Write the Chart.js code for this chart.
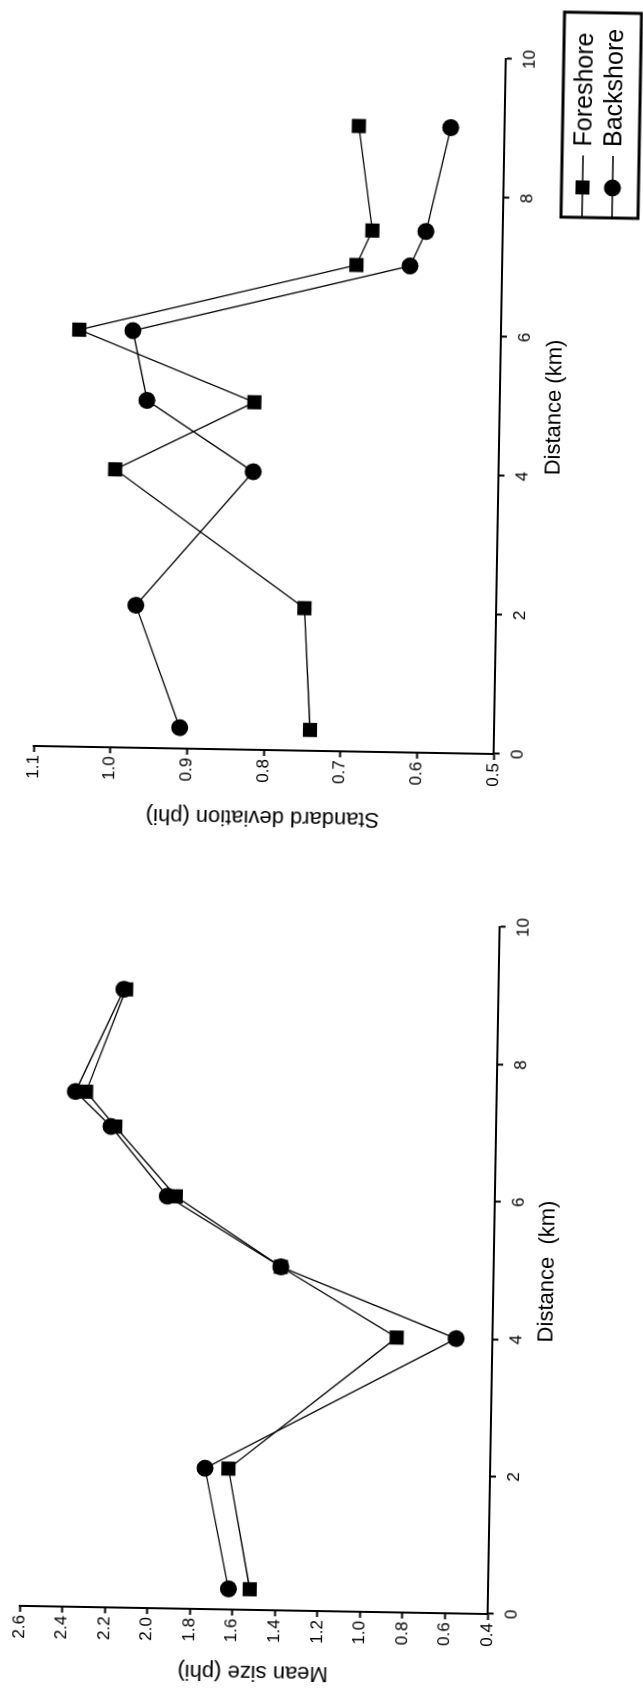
<!DOCTYPE html>
<html>
<head>
<meta charset="utf-8">
<script src="https://cdn.jsdelivr.net/npm/chart.js@4.4.1/dist/chart.umd.min.js"></script>
<style>
  html, body { margin: 0; padding: 0; background: #fff; width: 643px; height: 1689px; overflow: hidden; }
  /* la figure est montée à l'horizontale puis tournée d'un quart de tour */
  #figure { position: absolute; left: -523px; top: 523px; width: 1689px; height: 643px;
            transform: rotate(-89deg); transform-origin: 50% 50%; background: #fff; }
  #figure canvas { position: absolute; top: 0; }
  #meanChart { left: 0; }
  #sdChart { left: 860px; }
</style>
</head>
<body>
<div id="figure">
  <canvas id="meanChart" width="860" height="643"></canvas>
  <canvas id="sdChart" width="829" height="643"></canvas>
</div>
<script>
// distance des stations le long du littoral (km)
const distanceKm = [0.3, 2.05, 4.0, 5.0, 6.0, 7.0, 7.5, 9.0];

// taille moyenne (phi)
const meanForeshore = [1.52, 1.63, 0.85, 1.40, 1.90, 2.19, 2.33, 2.15];
const meanBackshore = [1.62, 1.74, 0.57, 1.40, 1.94, 2.21, 2.38, 2.16];

// écart-type (phi)
const sdForeshore = [0.74, 0.75, 1.00, 0.82, 1.05, 0.69, 0.67, 0.69];
const sdBackshore = [0.91, 0.97, 0.82, 0.96, 0.98, 0.62, 0.60, 0.57];

const distanceTicks = [0, 2, 4, 6, 8, 10];
const meanTicks = [0.4, 2.6, 0.2];   // min, max, pas
const sdTicks = [0.5, 1.1, 0.1];

const police = "'Liberation Sans', Arial, Helvetica, sans-serif";
const policeTicks = { family: police, size: 17 };
const policeTitre = { family: police, size: 22, lineHeight: 1 };

function points(valeurs) {
  return valeurs.map(function (v, i) { return { x: distanceKm[i], y: v }; });
}

function series(fore, back) {
  return [{
    label: "Foreshore",
    data: points(fore),
    borderColor: "#000",
    borderWidth: 1.3,
    backgroundColor: "#000",
    pointStyle: "rect",
    pointRadius: 10,
    pointBorderWidth: 0,
    tension: 0
  }, {
    label: "Backshore",
    data: points(back),
    borderColor: "#000",
    borderWidth: 1.3,
    backgroundColor: "#000",
    pointStyle: "circle",
    pointRadius: 8.5,
    pointBorderWidth: 0,
    tension: 0
  }];
}

// légende encadrée dessinée à la main dans le coin du second graphique
const legendeCadre = {
  id: "legendeCadre",
  afterDraw: function (chart, args, opts) {
    if (!opts.display) return;
    const ctx = chart.ctx;
    const x0 = opts.x, y0 = opts.y, w = opts.w, h = opts.h;
    ctx.save();
    ctx.strokeStyle = "#000";
    ctx.lineWidth = 3;
    ctx.strokeRect(x0, y0, w, h);
    chart.data.datasets.forEach(function (ds, i) {
      const yy = y0 + 21 + i * 30;
      ctx.lineWidth = 1.3;
      ctx.beginPath();
      ctx.moveTo(x0, yy);
      ctx.lineTo(x0 + 62, yy);
      ctx.stroke();
      ctx.fillStyle = "#000";
      if (ds.pointStyle === "rect") {
        ctx.fillRect(x0 + 23, yy - 7, 14, 14);
      } else {
        ctx.beginPath();
        ctx.arc(x0 + 30, yy, 8.5, 0, Math.PI * 2);
        ctx.fill();
      }
      ctx.font = "25px " + police;
      ctx.textBaseline = "middle";
      ctx.fillText(ds.label, x0 + 71, yy + 1);
    });
    ctx.restore();
  }
};

function options(cfg) {
  return {
    responsive: false,
    devicePixelRatio: 1,
    animation: false,
    layout: { padding: cfg.padding },
    plugins: {
      legend: { display: false },
      tooltip: { enabled: false },
      legendeCadre: cfg.legende
    },
    scales: {
      x: {
        type: "linear",
        min: distanceTicks[0],
        max: distanceTicks[distanceTicks.length - 1],
        ticks: { stepSize: 2, color: "#000", font: policeTicks, padding: 8 },
        grid: { drawOnChartArea: false, tickLength: 6, tickWidth: 2, tickColor: "#000" },
        border: { color: "#000", width: 2 },
        title: { display: true, text: cfg.xTitre, color: "#000", font: policeTitre,
                 padding: { top: 0, bottom: cfg.xTitreBas } },
        afterFit: function (scale) { scale.height = cfg.xHauteur; }
      },
      y: {
        min: cfg.yTicks[0],
        max: cfg.yTicks[1],
        ticks: {
          stepSize: cfg.yTicks[2], color: "#000", font: policeTicks, padding: 3,
          callback: function (v) { return Number(v).toFixed(1); }
        },
        grid: { drawOnChartArea: false, tickLength: 6, tickWidth: 2, tickColor: "#000" },
        border: { color: "#000", width: 2 },
        title: { display: true, text: cfg.yTitre, color: "#000", font: policeTitre,
                 padding: { top: cfg.yTitreMarge, bottom: 0 } },
        afterFit: function (scale) { scale.width = 78; }
      }
    }
  };
}

Chart.register(legendeCadre);

new Chart(document.getElementById("meanChart"), {
  type: "line",
  data: { datasets: series(meanForeshore, meanBackshore) },
  options: options({
    padding: { top: 33, right: 95, bottom: 0, left: 0 },
    xTitre: "Distance  (km)", xTitreBas: 77, xHauteur: 142,
    yTitre: "Mean size (phi)", yTitreMarge: 5, yTicks: meanTicks,
    legende: { display: false }
  })
});

new Chart(document.getElementById("sdChart"), {
  type: "line",
  data: { datasets: series(sdForeshore, sdBackshore) },
  options: options({
    padding: { top: 32, right: 56, bottom: 0, left: 0 },
    xTitre: "Distance (km)", xTitreBas: 85, xHauteur: 151,
    yTitre: "Standard deviation (phi)", yTitreMarge: 0, yTicks: sdTicks,
    legende: { display: true, x: 616, y: 550, w: 205, h: 77 }
  })
});
</script>
</body>
</html>
